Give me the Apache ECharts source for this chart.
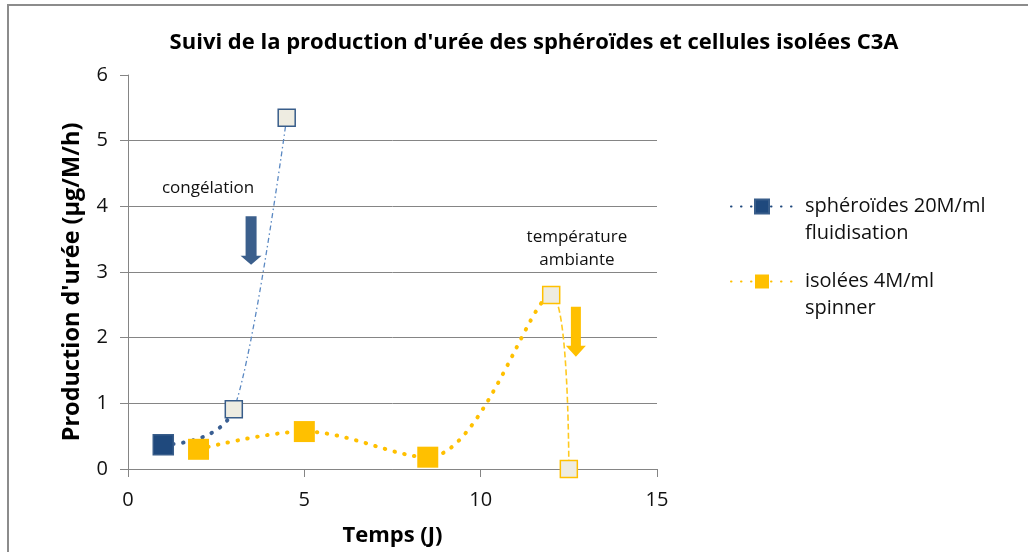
<!DOCTYPE html>
<html>
<head>
<meta charset="utf-8">
<title>Production d'urée C3A</title>
<script src="https://cdn.jsdelivr.net/npm/echarts@6/dist/echarts.min.js"></script>
<style>
  html, body { margin: 0; padding: 0; background: #ffffff; }
  #chart { width: 1028px; height: 552px; }
</style>
</head>
<body>
<div id="chart"></div>
<script>
// ---- chart text ----
const titleText = "Suivi de la production d'urée des sphéroïdes et cellules isolées C3A";
const xAxisName = 'Temps (J)';
const yAxisName = "Production d'urée (µg/M/h)";
const spheroidName = 'sphéroïdes 20M/ml\nfluidisation';
const isolatedName = 'isolées 4M/ml\nspinner';

// ---- measurements: day and urea production (µg/M/h) ----
const spheroidDays = [1, 3, 4.5];
const spheroidUrea = [0.37, 0.91, 5.35];
const isolatedDays = [2, 5, 8.5, 12, 12.5];
const isolatedUrea = [0.30, 0.57, 0.18, 2.65, 0];

// day on which each culture changed condition (later points drawn hollow)
const spheroidChangeDay = 3;
const isolatedChangeDay = 12;

// ---- axes ----
const xMin = 0, xMax = 15, xStep = 5;
const yMin = 0, yMax = 6, yStep = 1;

const FONT = '"Open Sans", "Noto Sans", sans-serif';
const BLUE_DARK = '#1F497D';
const BLUE_EDGE = '#385D8A';
const BLUE_DOTS = '#3A5F92';
const BLUE_THIN = '#5A88C2';
const ORANGE = '#FFC000';
const ORANGE_THIN = '#FFC91F';
const HOLLOW = '#EEECE1';
const GRID_GREY = '#858585';

const pairs = (xs, ys) => xs.map((x, i) => [x, ys[i]]);
const spheroidData = pairs(spheroidDays, spheroidUrea);
const isolatedData = pairs(isolatedDays, isolatedUrea);

const CLEAR = 'rgba(0,0,0,0)';
const DOTS = { width: 4, type: [0.5, 9.5], cap: 'round' };

// line colouring split at the change day (before: first colour, after: second)
const splitPieces = (day, before, after) => [
  { gte: xMin - 1, lte: day, color: before },
  { gt: day, lte: xMax + 1, color: after }
];

// marker items: the first spheroid point is filled, later ones hollow;
// isolated-cell points are filled before the change day, hollow from it on
const spheroidMarkers = spheroidData.map((p, i) => ({
  value: p,
  symbolSize: i === 0 ? 20 : 17,
  itemStyle: i === 0
    ? { color: BLUE_DARK, borderColor: BLUE_EDGE, borderWidth: 1.5 }
    : { color: HOLLOW, borderColor: BLUE_EDGE, borderWidth: 1.5 }
}));
const isolatedMarkers = isolatedData.map((p) => {
  const hollow = p[0] >= isolatedChangeDay;
  return {
    value: p,
    symbolSize: hollow ? 17 : 21,
    itemStyle: hollow
      ? { color: HOLLOW, borderColor: ORANGE, borderWidth: 1.5 }
      : { color: ORANGE, borderWidth: 0 }
  };
});

// legend label: blank first line keeps the first text line level with the icon
const legendLabel = (name) =>
  '{t| }\n' + name.split('\n').map((s) => '{t|' + s + '}').join('\n');

const chart = echarts.init(document.getElementById('chart'), null, { renderer: 'canvas' });

const option = {
  animation: false,
  backgroundColor: '#ffffff',
  textStyle: { fontFamily: FONT },
  title: {
    text: titleText,
    left: 534,
    top: 43,
    padding: 0,
    textAlign: 'center',
    textVerticalAlign: 'middle',
    textStyle: { fontFamily: FONT, fontWeight: 'bold', fontSize: 22, color: '#000' }
  },
  grid: { left: 128, right: 371, top: 75, bottom: 83, containLabel: false },
  xAxis: {
    type: 'value',
    min: xMin, max: xMax, interval: xStep,
    name: xAxisName,
    nameLocation: 'middle',
    nameGap: 56,
    nameTextStyle: { fontFamily: FONT, fontWeight: 'bold', fontSize: 22, color: '#000' },
    axisLine: { show: true, lineStyle: { color: GRID_GREY, width: 1 } },
    axisTick: { show: true, length: 8, lineStyle: { color: GRID_GREY } },
    axisLabel: { margin: 21, fontFamily: FONT, fontSize: 20, color: '#111' },
    splitLine: { show: false }
  },
  yAxis: {
    type: 'value',
    min: yMin, max: yMax, interval: yStep,
    name: yAxisName,
    nameLocation: 'middle',
    nameRotate: 90,
    nameGap: 44,
    nameTextStyle: {
      fontFamily: FONT, fontWeight: 'bold', fontSize: 23.5, color: '#000',
      padding: [0, 20, 0, 0]
    },
    axisLine: { show: true, lineStyle: { color: GRID_GREY, width: 1 } },
    axisTick: { show: true, length: 8, lineStyle: { color: GRID_GREY } },
    axisLabel: { margin: 20, fontFamily: FONT, fontSize: 20, color: '#111' },
    splitLine: { show: true, showMaxLine: false, lineStyle: { color: GRID_GREY, width: 1 } }
  },
  legend: {
    data: [spheroidName, isolatedName],
    orient: 'vertical',
    left: 730,
    top: 166,
    padding: 0,
    itemGap: -6,
    itemWidth: 62,
    itemHeight: 17.5,
    selectedMode: false,
    formatter: legendLabel,
    textStyle: {
      fontFamily: FONT, fontSize: 20, color: '#111', lineHeight: 27,
      rich: { t: { fontFamily: FONT, fontSize: 20, color: '#111', lineHeight: 27, padding: [0, 0, 0, 7] } }
    }
  },
  visualMap: [
    { type: 'piecewise', show: false, seriesIndex: 0, dimension: 0,
      pieces: splitPieces(spheroidChangeDay, BLUE_DOTS, CLEAR) },
    { type: 'piecewise', show: false, seriesIndex: 1, dimension: 0,
      pieces: splitPieces(spheroidChangeDay, CLEAR, BLUE_THIN) },
    { type: 'piecewise', show: false, seriesIndex: 2, dimension: 0,
      pieces: splitPieces(isolatedChangeDay, ORANGE, CLEAR) },
    { type: 'piecewise', show: false, seriesIndex: 3, dimension: 0,
      pieces: splitPieces(isolatedChangeDay, CLEAR, ORANGE_THIN) }
  ],
  series: [
    {
      name: spheroidName, type: 'line', data: spheroidData, smooth: 0.79,
      color: BLUE_DOTS, symbol: 'rect', showSymbol: false, z: 2,
      itemStyle: { color: BLUE_DARK, borderColor: BLUE_EDGE, borderWidth: 1 },
      lineStyle: DOTS
    },
    {
      name: 'spheroid-after', type: 'line', data: spheroidData, smooth: 0.21,
      color: BLUE_THIN, symbol: 'none', z: 2,
      lineStyle: { width: 1.3, type: [5, 3, 1.5, 3] }
    },
    {
      name: isolatedName, type: 'line', data: isolatedData, smooth: 0.35,
      color: ORANGE, symbol: 'rect', showSymbol: false, z: 2,
      itemStyle: { color: ORANGE },
      lineStyle: DOTS
    },
    {
      name: 'isolated-after', type: 'line', data: isolatedData, smooth: 0.36,
      color: ORANGE_THIN, symbol: 'none', z: 2,
      lineStyle: { width: 1.6, type: [6, 3] }
    },
    {
      name: 'spheroid-points', type: 'scatter', symbol: 'rect', z: 3,
      itemStyle: { opacity: 1 },
      data: spheroidMarkers
    },
    {
      name: 'isolated-points', type: 'scatter', symbol: 'rect', z: 4,
      itemStyle: { opacity: 1 },
      data: isolatedMarkers
    }
  ],
  graphic: [
    { type: 'rect', id: 'frame', silent: true, z: -1,
      shape: { x: 8, y: 5, width: 1200, height: 700 },
      style: { fill: 'none', stroke: '#8c8c8c', lineWidth: 2 } }
  ]
};

chart.setOption(option);

// ---- annotations placed in data coordinates ----
const notes = [
  { id: 'note-freeze', text: 'congélation', at: [2.27, 4.28] },
  { id: 'note-room', text: 'température\nambiante', at: [12.73, 3.36] }
];
const arrows = [
  { id: 'arrow-freeze', x: 3.49, from: 3.85, to: 3.11, color: '#3B5F8C', shaft: 5.5, head: 10.5, headLen: 9 },
  { id: 'arrow-room', x: 12.7, from: 2.47, to: 1.71, color: ORANGE, shaft: 5, head: 10, headLen: 11 }
];

const toPx = (p) => chart.convertToPixel({ gridIndex: 0 }, p);
const extra = [];
notes.forEach((n) => {
  const [px, py] = toPx(n.at);
  extra.push({
    type: 'text', id: n.id, silent: true, z: 5, x: px, y: py,
    style: {
      text: n.text, fill: '#111', font: '17px ' + FONT,
      align: 'center', verticalAlign: 'middle', lineHeight: 23
    }
  });
});
arrows.forEach((a) => {
  const [cx, y1] = toPx([a.x, a.from]);
  const y2 = toPx([a.x, a.to])[1];
  const yh = y2 - a.headLen;
  extra.push({
    type: 'polygon', id: a.id, silent: true, z: 5,
    shape: { points: [
      [cx - a.shaft, y1], [cx + a.shaft, y1], [cx + a.shaft, yh], [cx + a.head, yh],
      [cx, y2], [cx - a.head, yh], [cx - a.shaft, yh]
    ] },
    style: { fill: a.color }
  });
});
chart.setOption({ graphic: extra });
</script>
</body>
</html>
